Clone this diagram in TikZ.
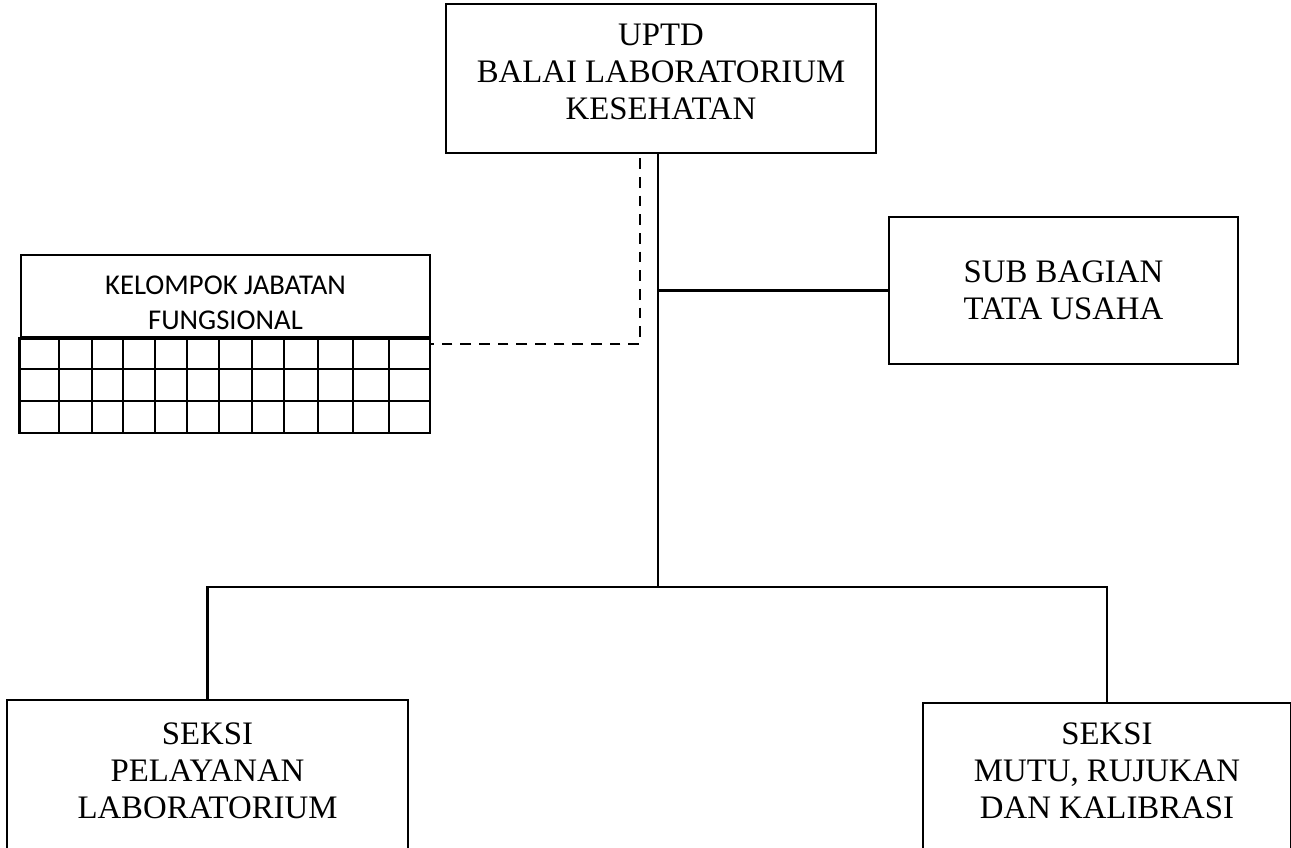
\documentclass[tikz,border=0pt]{standalone}
\usepackage{fontspec}
\setmainfont{Liberation Serif}
\newfontfamily\kjffont{Carlito}
\usetikzlibrary{positioning,calc}
\tikzset{
  unitbox/.style = {draw=black, line width=2pt, inner sep=0pt},
  unittext/.style = {align=center, inner sep=0pt, font=\fontsize{24.6}{27.75}\selectfont},
  kjftext/.style = {unittext, font=\kjffont\fontsize{21.5}{26}\selectfont},
  conn/.style = {line width=1.6pt},
  dashconn/.style = {line width=1.7pt, dash pattern=on 8pt off 6pt, shorten <=3pt},
  gridline/.style = {line width=1.4pt}
}

\begin{document}
\begin{tikzpicture}[x=0.75pt, y=-0.75pt]
\useasboundingbox (0,0) rectangle (1291,847);

% kepala
\node [unitbox, minimum width=322.5pt, minimum height=111.75pt] (uptd) at (661,78.5) {};
\node [unittext] (uptdtext) at ($(uptd)+(0,-7)$) {UPTD\\BALAI LABORATORIUM\\KESEHATAN};
% tata usaha
\node [unitbox, minimum width=261.75pt, minimum height=110.25pt] (subbag) at (1063.5,290.5) {};
\node [unittext] (subbagtext) at (subbag) {SUB BAGIAN\\TATA USAHA};
% seksi
\node [unitbox, minimum width=300.75pt, minimum height=111.75pt] (seksipl) at (207.5,774.5) {};
\node [unittext] (seksipltext) at ($(seksipl)+(0,-4)$) {SEKSI\\PELAYANAN\\LABORATORIUM};
\node [unitbox, minimum width=276pt, minimum height=111.75pt] (seksimr) at (1107,777.5) {};
\node [unittext] (seksimrtext) at ($(seksimr)+(0,-7)$) {SEKSI\\MUTU, RUJUKAN\\DAN KALIBRASI};

% jabatan fungsional
\node [unitbox, minimum width=306.75pt, minimum height=61.5pt] (kjf) at (225.5,296) {};
\node [kjftext] (kjftext) at ($(kjf)+(0,7)$) {KELOMPOK JABATAN\\FUNGSIONAL};
\foreach \y in {369,401}
  \draw [gridline] (21,\y) -- (430,\y);
\foreach \x in {59,92,123,155,187,219,252,284,318,353,389}
  \draw [gridline] (\x,337) -- (\x,433);
\draw [line width=2pt] (kjf.south west) rectangle (430,433);

% garis
\coordinate (hub) at (658,587);
\coordinate (dashturn) at (640,344);
\draw [conn] (uptd.south -| hub) -- (hub);
\draw [conn] (hub |- subbag.west) -- (subbag.west);
\draw [conn] (seksipl.north) |- (hub) -| (seksimr.north);
\draw [dashconn] (uptd.south -| dashturn) -- (dashturn) -- (dashturn -| kjf.east);
\end{tikzpicture}
\end{document}
